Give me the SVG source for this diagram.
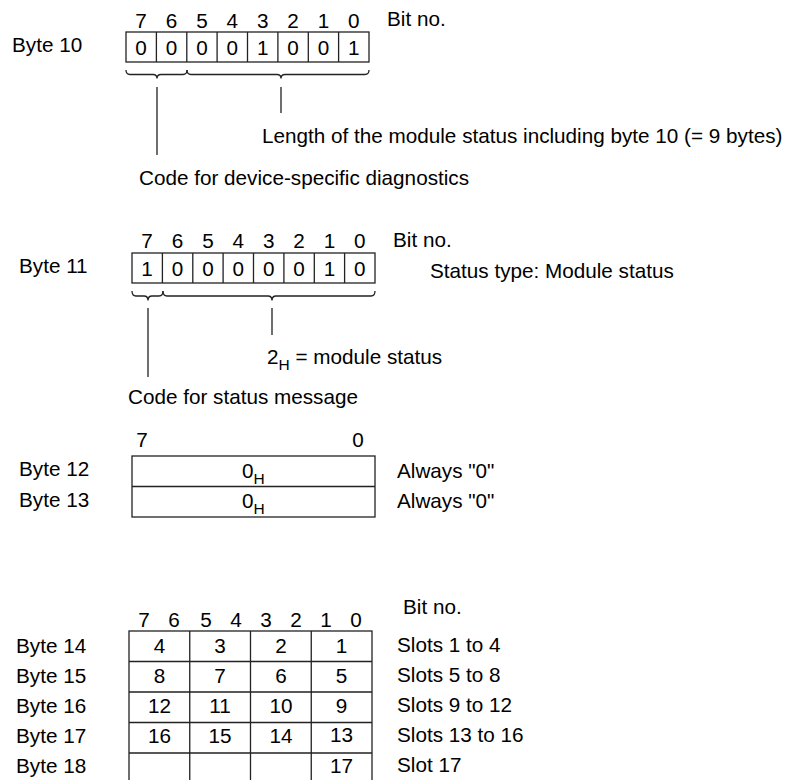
<svg xmlns="http://www.w3.org/2000/svg" width="798" height="780" viewBox="0 0 798 780">
<style>
text{font-family:"Liberation Sans",Arial,sans-serif;font-size:20.7px;fill:#000}
.c{text-anchor:middle}
.sub{font-size:15.5px}
.g{fill:#fff;stroke:#222;stroke-width:1.3}
.l{stroke:#222;stroke-width:1.3;fill:none}
</style>
<rect width="798" height="780" fill="#fff"/>

<g id="byte10">
<text x="12" y="52">Byte 10</text>
<g class="c">
<text x="141" y="28">7</text><text x="171.6" y="28">6</text><text x="202" y="28">5</text><text x="232.3" y="28">4</text><text x="262.7" y="28">3</text><text x="293" y="28">2</text><text x="323.4" y="28">1</text><text x="353.8" y="28">0</text>
</g>
<rect class="g" x="126" y="32" width="243" height="30"/>
<path class="l" d="M156.4,32V62M186.8,32V62M217.1,32V62M247.5,32V62M277.9,32V62M308.3,32V62M338.6,32V62"/>
<g class="c">
<text x="141" y="54.5">0</text><text x="171.6" y="54.5">0</text><text x="202" y="54.5">0</text><text x="232.3" y="54.5">0</text><text x="262.7" y="54.5">1</text><text x="293" y="54.5">0</text><text x="323.4" y="54.5">0</text><text x="353.8" y="54.5">1</text>
</g>
<text x="387" y="26">Bit no.</text>
</g>

<g id="byte10-labels">
<text x="262" y="143">Length of the module status including byte 10 (= 9 bytes)</text>
<text x="139" y="185">Code for device-specific diagnostics</text>
</g>

<g id="byte11">
<text x="19" y="273">Byte 11</text>
<g class="c">
<text x="147" y="248">7</text><text x="177.6" y="248">6</text><text x="208" y="248">5</text><text x="238.3" y="248">4</text><text x="268.7" y="248">3</text><text x="299" y="248">2</text><text x="329.4" y="248">1</text><text x="359.8" y="248">0</text>
</g>
<rect class="g" x="132" y="253" width="243" height="30"/>
<path class="l" d="M162.4,253V283M192.8,253V283M223.1,253V283M253.5,253V283M283.9,253V283M314.3,253V283M344.6,253V283"/>
<g class="c">
<text x="147" y="275.5">1</text><text x="177.6" y="275.5">0</text><text x="208" y="275.5">0</text><text x="238.3" y="275.5">0</text><text x="268.7" y="275.5">0</text><text x="299" y="275.5">0</text><text x="329.4" y="275.5">1</text><text x="359.8" y="275.5">0</text>
</g>
<text x="393" y="247">Bit no.</text>
<text x="430" y="278">Status type: Module status</text>
</g>

<g id="byte11-labels">
<text x="267" y="364">2<tspan class="sub" dy="6">H</tspan><tspan dy="-6"> = module status</tspan></text>
<text x="128" y="404">Code for status message</text>
</g>

<g id="byte12-13">
<text x="19" y="476">Byte 12</text>
<text x="19" y="507">Byte 13</text>
<text class="c" x="142" y="447">7</text>
<text class="c" x="358" y="447">0</text>
<rect class="g" x="132" y="456" width="243" height="61"/>
<path class="l" d="M132,486.5H375"/>
<text x="242" y="478">0<tspan class="sub" dy="6">H</tspan></text>
<text x="242" y="508">0<tspan class="sub" dy="6">H</tspan></text>
<text x="397" y="478">Always "0"</text>
<text x="397" y="508">Always "0"</text>
</g>

<g id="byte14-18">
<text x="403" y="614">Bit no.</text>
<g class="c">
<text x="144" y="627">7</text><text x="174" y="627">6</text><text x="206" y="627">5</text><text x="236" y="627">4</text><text x="266" y="627">3</text><text x="296" y="627">2</text><text x="326" y="627">1</text><text x="356" y="627">0</text>
</g>
<rect class="g" x="129" y="631" width="243" height="153"/>
<path class="l" d="M189.75,631V784M250.5,631V784M311.25,631V784M129,661.5H372M129,692H372M129,722.5H372M129,753H372"/>
<text x="16" y="653">Byte 14</text>
<text x="16" y="683">Byte 15</text>
<text x="16" y="713">Byte 16</text>
<text x="16" y="743">Byte 17</text>
<text x="16" y="773">Byte 18</text>
<g class="c">
<text x="159.4" y="653">4</text><text x="220.1" y="653">3</text><text x="280.9" y="653">2</text><text x="341.6" y="653">1</text>
<text x="159.4" y="683">8</text><text x="220.1" y="683">7</text><text x="280.9" y="683">6</text><text x="341.6" y="683">5</text>
<text x="159.4" y="713">12</text><text x="220.1" y="713">11</text><text x="280.9" y="713">10</text><text x="341.6" y="713">9</text>
<text x="159.4" y="743">16</text><text x="220.1" y="743">15</text><text x="280.9" y="743">14</text><text x="341.6" y="742">13</text>
<text x="341.6" y="773">17</text>
</g>
<text x="397" y="652">Slots 1 to 4</text>
<text x="397" y="682">Slots 5 to 8</text>
<text x="397" y="712">Slots 9 to 12</text>
<text x="397" y="742">Slots 13 to 16</text>
<text x="397" y="772">Slot 17</text>
</g>

<g id="connectors">
<path class="l" d="M126,70q0,4.5 4,4.5H153q4,0 4,4q0,-4 4,-4H183q4,0 4,-4.5"/>
<path class="l" d="M187,70q0,4.5 4,4.5H277q4,0 4,4q0,-4 4,-4H365q4,0 4,-4.5"/>
<path class="l" d="M157,87V155M281,87V113"/>
<path class="l" d="M132,291q0,5 4,5H144q4,0 4,4.5q0,-4.5 4,-4.5H159q4,0 4,-5"/>
<path class="l" d="M163,291q0,5 4,5H268q4,0 4,4.5q0,-4.5 4,-4.5H371q4,0 4,-5"/>
<path class="l" d="M148,308V377M272,308V335"/>
</g>
</svg>
